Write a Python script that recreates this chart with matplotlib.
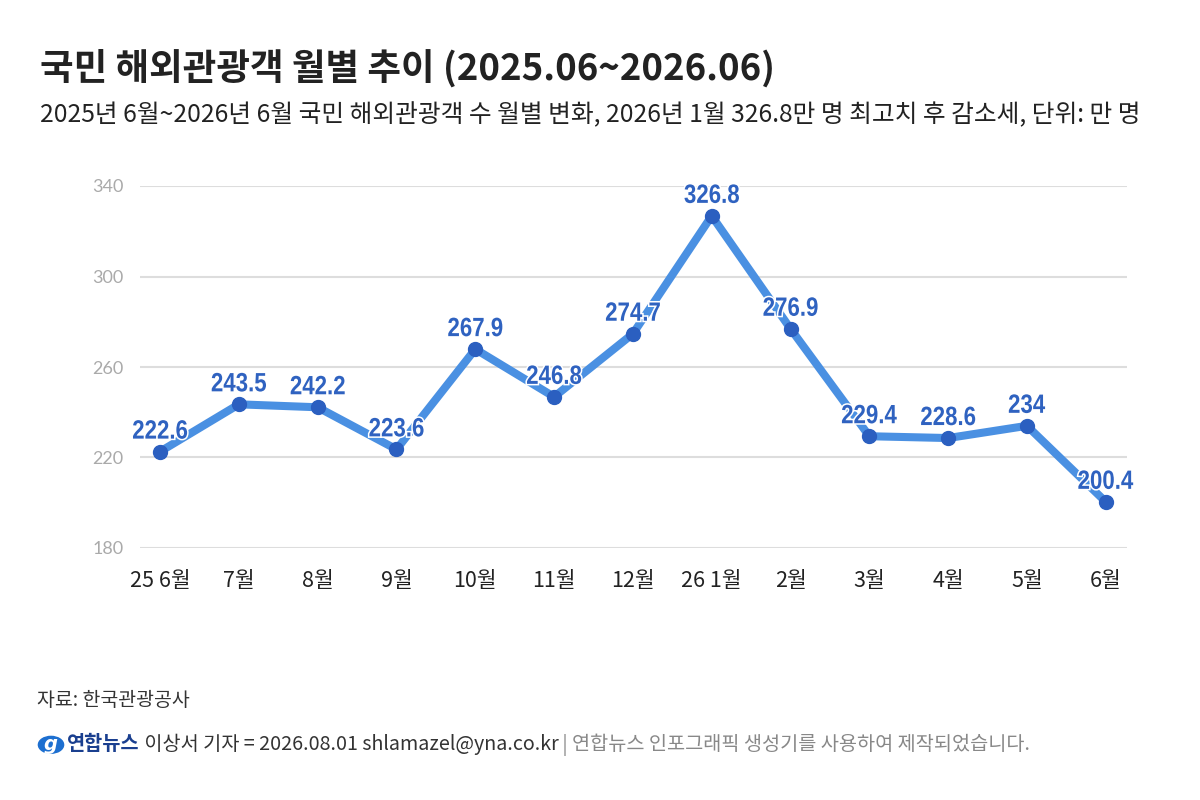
import matplotlib
matplotlib.use("Agg")
import matplotlib.pyplot as plt
from matplotlib.patches import Circle, PathPatch
from matplotlib.textpath import TextPath
from matplotlib.font_manager import FontProperties
from matplotlib.transforms import Affine2D, ScaledTranslation

plt.rcParams['font.family'] = ['Noto Sans CJK KR', 'DejaVu Sans']

# data (단위: 만 명)
months = ['25 6월', '7월', '8월', '9월', '10월', '11월', '12월',
          '26 1월', '2월', '3월', '4월', '5월', '6월']
visitors = [222.6, 243.5, 242.2, 223.6, 267.9, 246.8, 274.7,
            326.8, 276.9, 229.4, 228.6, 234, 200.4]
value_labels = ['222.6', '243.5', '242.2', '223.6', '267.9', '246.8', '274.7',
                '326.8', '276.9', '229.4', '228.6', '234', '200.4']
y_ticks = [180, 220, 260, 300, 340]

line_color = '#4a90e2'
dot_color = '#2b5fc0'
label_color = '#2f62c0'

fig = plt.figure(figsize=(12, 8), dpi=100)
ax = fig.add_axes([0.1167, 0.315, 0.8225, 0.4525])

x = list(range(len(months)))
ax.plot(x, visitors, color=line_color, lw=5.8, solid_joinstyle='miter',
        zorder=3, clip_on=False)
ax.plot(x, visitors, 'o', color=dot_color, ms=10, zorder=4, clip_on=False)

# value labels: bold digits squeezed horizontally (tight, condensed look)
fp = FontProperties(family='Liberation Sans', weight='bold')
for xi, v, lab in zip(x, visitors, value_labels):
    tp = TextPath((0, 0), lab, size=26.5, prop=fp)
    bb = tp.get_extents()
    tr = (Affine2D().translate(-(bb.x0 + bb.width / 2), 0)
          .scale(0.84, 1).translate(0, 13)
          + ScaledTranslation(xi, v, ax.transData))
    ax.add_patch(PathPatch(tp, transform=tr, facecolor='white',
                           edgecolor='white', lw=2.2, zorder=5, clip_on=False))
    ax.add_patch(PathPatch(tp, transform=tr, facecolor=label_color,
                           edgecolor='none', zorder=6, clip_on=False))

ax.set_xlim(-0.254, 12.27)
ax.set_ylim(180, 340)
ax.set_yticks(y_ticks)
ax.set_yticklabels([str(t) for t in y_ticks], color='#aaaaaa', fontsize=13,
                   family=['Lato', 'DejaVu Sans'])
ax.set_xticks(x)
ax.set_xticklabels(months, fontsize=15.5, color='#222222')
ax.tick_params(axis='both', length=0)
ax.tick_params(axis='y', pad=12)
ax.tick_params(axis='x', pad=16)
ax.grid(axis='y', color='#dddddd', lw=1.5)
ax.set_axisbelow(True)
for s in ax.spines.values():
    s.set_visible(False)

fig.text(0.033, 0.915, '국민 해외관광객 월별 추이 (2025.06~2026.06)',
         fontsize=26.3, fontweight='bold', color='#222222', va='center')
fig.text(0.033, 0.856, '2025년 6월~2026년 6월 국민 해외관광객 수 월별 변화, '
         '2026년 1월 326.8만 명 최고치 후 감소세, 단위: 만 명',
         fontsize=17.8, color='#222222', va='center')

fig.text(0.031, 0.125, '자료: 한국관광공사', fontsize=14, color='#333333',
         va='center')

# footer credit line
fig.patches.append(Circle((0.0425, 0.069), 0.0105, transform=fig.transFigure,
                          color='#1d6fd0', zorder=2))
fig.text(0.0425, 0.069, 'g', color='white', fontsize=14, fontstyle='italic',
         fontweight='bold', ha='center', va='center', family='DejaVu Sans')

renderer = fig.canvas.get_renderer()
parts = [('연합뉴스', '#1a3f8f', 'bold'),
         (' 이상서 기자 = 2026.08.01 shlamazel@yna.co.kr', '#333333', 'normal'),
         (' | 연합뉴스 인포그래픽 생성기를 사용하여 제작되었습니다.', '#888888', 'normal')]
xpos = 0.056
for txt, col, w in parts:
    t = fig.text(xpos, 0.069, txt, fontsize=14.2, color=col, fontweight=w,
                 va='center')
    bb = t.get_window_extent(renderer=renderer)
    xpos += bb.width / fig.bbox.width

fig.savefig('out.png', dpi=100, facecolor='white')
